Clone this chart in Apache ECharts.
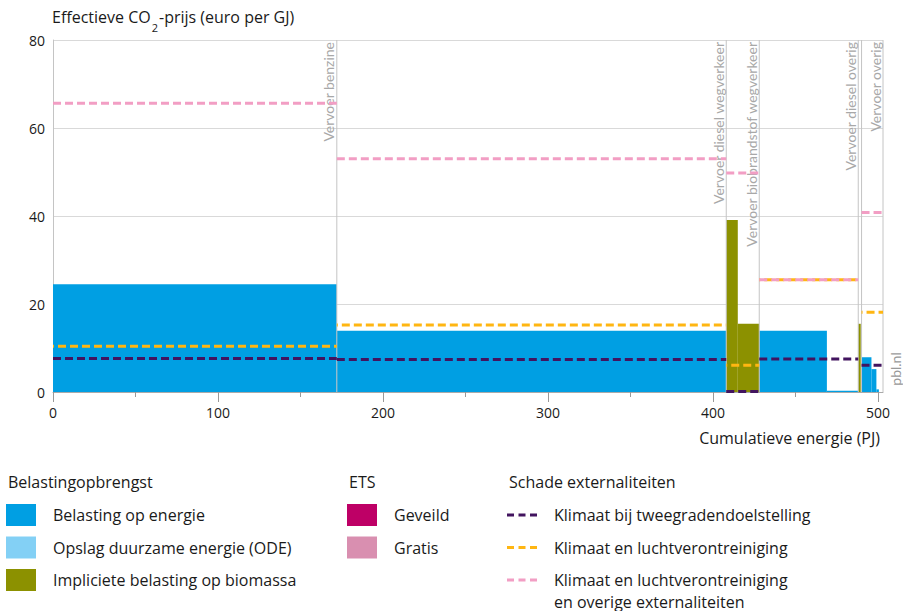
<!DOCTYPE html>
<html>
<head>
<meta charset="utf-8">
<script src="https://cdn.jsdelivr.net/npm/echarts@6/dist/echarts.min.js"></script>
<style>
  html, body { margin: 0; padding: 0; background: #fff; }
  #chart { width: 903px; height: 611px; }
</style>
</head>
<body>
<div id="chart"></div>
<script>
// segment right edges (cumulative energy, PJ) and their labels
const segEnds = [172, 408, 428, 488, 490, 503]
const segLabels = ['Vervoer benzine', 'Vervoer diesel wegverkeer', 'Vervoer biobrandstof wegverkeer', 'Vervoer diesel overig', '', 'Vervoer overig']

// bars: [from PJ, to PJ, euro per GJ]
const energyTax = [[0, 172, 24.5], [172, 408, 13.9], [428, 469, 13.9], [469, 488, 0.3], [490, 496, 7.9], [496, 499, 5.2], [499, 500.5, 0.6]]
const biomassTax = [[408, 415, 39.1], [415, 428, 15.5], [488, 489.5, 15.5]]

// damage cost levels: [from PJ, to PJ, euro per GJ]
const climate2deg = [[0, 172, 7.6], [172, 408, 7.4], [408, 428, 0.1], [428, 488, 7.5], [490, 503, 6.1]]
const climateAir = [[0, 172, 10.4], [172, 408, 15.2], [408, 428, 6.1], [428, 488, 25.5], [490, 503, 18.1]]
const climateAll = [[0, 172, 65.6], [172, 408, 53.0], [408, 428, 49.8], [428, 488, 25.5], [490, 503, 40.8]]

const xTicks = [0, 100, 200, 300, 400, 500]
const xMinorTicks = [50, 150, 250, 350, 450]

const FONT = '"Open Sans", Lato, sans-serif'
const LABEL_FONT = 'Lato, "Open Sans", sans-serif'
const colors = {
  energy: '#009fe3',
  ode: '#83d0f5',
  biomass: '#8c9100',
  geveild: '#be0066',
  gratis: '#d98fb0',
  purple: '#42145f',
  orange: '#ffb612',
  pink: '#f29ec4'
}

const legendGroups = [
  { title: 'Belastingopbrengst', x: 6, items: [['box', colors.energy, 'Belasting op energie'], ['box', colors.ode, 'Opslag duurzame energie (ODE)'], ['box', colors.biomass, 'Impliciete belasting op biomassa']] },
  { title: 'ETS', x: 347, items: [['box', colors.geveild, 'Geveild'], ['box', colors.gratis, 'Gratis']] },
  { title: 'Schade externaliteiten', x: 507, items: [['dash', colors.purple, 'Klimaat bij tweegradendoelstelling'], ['dash', colors.orange, 'Klimaat en luchtverontreiniging'], ['dash', colors.pink, 'Klimaat en luchtverontreiniging\nen overige externaliteiten']] }
]

function textWidth(s, font) {
  const ctx = document.createElement('canvas').getContext('2d')
  ctx.font = font
  return ctx.measureText(s).width
}

function renderBar(params, api) {
  const p0 = api.coord([api.value(0), api.value(2)])
  const p1 = api.coord([api.value(1), 0])
  return {
    type: 'rect',
    shape: { x: p0[0], y: p0[1], width: p1[0] - p0[0], height: p1[1] - p0[1] },
    style: { fill: api.visual('color') }
  }
}

function dashRenderer(offset) {
  return function(params, api) {
    const a = api.coord([api.value(0), api.value(2)])
    const b = api.coord([api.value(1), api.value(2)])
    return {
      type: 'line',
      shape: { x1: a[0], y1: a[1], x2: b[0], y2: b[1] },
      style: { stroke: api.visual('color'), lineWidth: 3, lineDash: [8, 4], lineDashOffset: offset }
    }
  }
}

function renderBoundary(params, api) {
  const top = api.coord([api.value(0), 80])
  const bot = api.coord([api.value(0), 0])
  return {
    type: 'group',
    children: [
      { type: 'line', shape: { x1: top[0], y1: top[1], x2: bot[0], y2: bot[1] }, style: { stroke: '#c4c4c4', lineWidth: 1 } },
      {
        type: 'text', x: top[0] - 1, y: top[1] + 2, rotation: Math.PI / 2,
        style: { text: segLabels[params.dataIndex], font: '14px ' + LABEL_FONT, fill: '#a8a8a8', align: 'right', verticalAlign: 'bottom' }
      }
    ]
  }
}

// legend + titles as graphic elements
const graphics = []
const tFont = '16px ' + FONT
const subFont = '11px ' + FONT
const w1 = textWidth('Effectieve CO', tFont)
const w2 = textWidth('2', subFont)
graphics.push({ type: 'text', x: 52, y: 17, style: { text: 'Effectieve CO', font: tFont, fill: '#1a1a1a', verticalAlign: 'middle' } })
graphics.push({ type: 'text', x: 52 + w1 + 1, y: 27, style: { text: '2', font: subFont, fill: '#1a1a1a', verticalAlign: 'middle' } })
graphics.push({ type: 'text', x: 52 + w1 + w2 + 2, y: 17, style: { text: '-prijs (euro per GJ)', font: tFont, fill: '#1a1a1a', verticalAlign: 'middle' } })
graphics.push({ type: 'text', x: 880, y: 438, style: { text: 'Cumulatieve energie (PJ)', font: tFont, fill: '#1a1a1a', align: 'right', verticalAlign: 'middle' } })
graphics.push({ type: 'text', x: 895, y: 369, rotation: Math.PI / 2, style: { text: 'pbl.nl', font: '14px ' + LABEL_FONT, fill: '#999', align: 'center', verticalAlign: 'middle' } })

legendGroups.forEach(g => {
  graphics.push({ type: 'text', x: g.x + 2, y: 482, style: { text: g.title, font: tFont, fill: '#1a1a1a', verticalAlign: 'middle' } })
  g.items.forEach((it, i) => {
    const cy = 515 + i * 32.5
    if (it[0] === 'box') {
      graphics.push({ type: 'rect', shape: { x: g.x, y: cy - 11, width: 30, height: 22 }, style: { fill: it[1] } })
    } else {
      graphics.push({ type: 'line', shape: { x1: g.x, y1: cy, x2: g.x + 30, y2: cy }, style: { stroke: it[1], lineWidth: 3, lineDash: [7, 4.5] } })
    }
    it[2].split('\n').forEach((line, j) => {
      graphics.push({ type: 'text', x: g.x + 47, y: cy + j * 21.5, style: { text: line, font: tFont, fill: '#1a1a1a', verticalAlign: 'middle' } })
    })
  })
})

const chart = echarts.init(document.getElementById('chart'), null, { renderer: 'svg' })
chart.setOption({
  animation: false,
  grid: { left: 53, right: 20, top: 40, bottom: 219, containLabel: false },
  xAxis: [
    {
      type: 'value', min: 0, max: 503,
      axisLine: { lineStyle: { color: '#aaa' } },
      axisTick: { customValues: xTicks, length: 10, lineStyle: { color: '#999' } },
      axisLabel: { customValues: xTicks, color: '#1a1a1a', fontSize: 14, fontFamily: FONT, margin: 13 },
      splitLine: { show: false }
    },
    {
      type: 'value', min: 0, max: 503, position: 'bottom',
      axisLine: { show: false },
      axisTick: { customValues: xMinorTicks, length: 5, lineStyle: { color: '#999' } },
      axisLabel: { show: false },
      splitLine: { show: false }
    }
  ],
  yAxis: {
    type: 'value', min: 0, max: 80, interval: 20,
    axisLine: { show: true, lineStyle: { color: '#c4c4c4' } },
    axisTick: { show: false },
    axisLabel: { color: '#1a1a1a', fontSize: 14, fontFamily: FONT, margin: 8 },
    splitLine: { lineStyle: { color: '#d9d9d9' } }
  },
  graphic: graphics,
  series: [
    { name: 'Belasting op energie', type: 'custom', renderItem: renderBar, data: energyTax, encode: { x: [0, 1], y: 2 }, itemStyle: { color: colors.energy } },
    { name: 'Impliciete belasting op biomassa', type: 'custom', renderItem: renderBar, data: biomassTax, encode: { x: [0, 1], y: 2 }, itemStyle: { color: colors.biomass } },
    { name: 'Segmenten', type: 'custom', renderItem: renderBoundary, data: segEnds.map(v => [v]), encode: { x: 0 }, silent: true },
    { name: 'Klimaat bij tweegradendoelstelling', type: 'custom', renderItem: dashRenderer(0), data: climate2deg, encode: { x: [0, 1], y: 2 }, itemStyle: { color: colors.purple } },
    { name: 'Klimaat en luchtverontreiniging', type: 'custom', renderItem: dashRenderer(7), data: climateAir, encode: { x: [0, 1], y: 2 }, itemStyle: { color: colors.orange } },
    { name: 'Klimaat en luchtverontreiniging en overige externaliteiten', type: 'custom', renderItem: dashRenderer(0), data: climateAll, encode: { x: [0, 1], y: 2 }, itemStyle: { color: colors.pink } }
  ]
})
</script>
</body>
</html>
